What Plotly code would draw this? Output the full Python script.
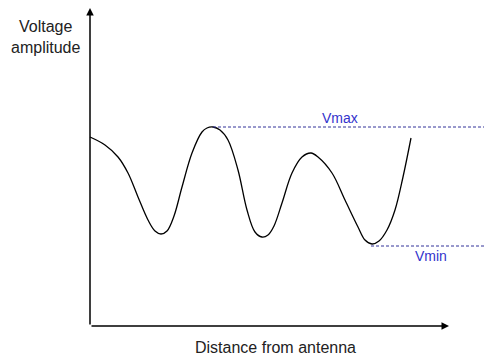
import plotly.graph_objects as go

# Standing-wave voltage amplitude along the line (arbitrary units)
distance = [0, 15, 28, 38, 48, 58, 65, 71, 77, 84, 92, 102, 112, 117, 123, 130, 138, 148, 157, 165,
            172, 178, 184, 192, 202, 212, 221, 228, 242, 255, 268, 275, 282, 289, 297, 305, 313, 321]
amplitude = [189, 181, 169, 153, 129, 106, 95, 92, 95, 110, 139, 173, 194, 198, 199, 196, 186, 156, 116, 94,
             89, 91, 100, 123, 153, 169, 173, 169, 153, 126, 99, 86, 82, 85, 96, 116, 149, 188]

v_max = 199
v_min = 80
vmax_span = [123, 402]
vmin_span = [281, 398]

x_axis_end = 359
y_axis_end = 318

fig = go.Figure()

fig.add_trace(go.Scatter(
    x=distance, y=amplitude, mode="lines",
    line=dict(color="black", width=1.3, shape="spline", smoothing=1.0),
    hoverinfo="skip", showlegend=False,
))

fig.add_trace(go.Scatter(
    x=vmax_span, y=[v_max, v_max], mode="lines",
    line=dict(color="#333399", width=1, dash="3px,2px"),
    hoverinfo="skip", showlegend=False,
))
fig.add_trace(go.Scatter(
    x=vmin_span, y=[v_min, v_min], mode="lines",
    line=dict(color="#333399", width=1, dash="3px,2px"),
    hoverinfo="skip", showlegend=False,
))

font = "Liberation Sans, Arial, sans-serif"

# axes with arrows
fig.add_annotation(x=0, y=y_axis_end, ax=0, ay=0, xref="x", yref="y", axref="x", ayref="y",
                   text="", showarrow=True, arrowhead=2, arrowsize=1, arrowwidth=1.5,
                   arrowcolor="black", standoff=0)
fig.add_annotation(x=x_axis_end, y=0, ax=0, ay=0, xref="x", yref="y", axref="x", ayref="y",
                   text="", showarrow=True, arrowhead=2, arrowsize=1, arrowwidth=1.5,
                   arrowcolor="black", standoff=0)

fig.add_annotation(x=-45, y=289, text="Voltage<br>amplitude", showarrow=False,
                   font=dict(family=font, size=16, color="#222222"), xref="x", yref="y")
fig.add_annotation(x=185, y=-21, text="Distance from antenna", showarrow=False,
                   font=dict(family=font, size=16, color="#222222"), xref="x", yref="y")
fig.add_annotation(x=250, y=208, text="Vmax", showarrow=False,
                   font=dict(family=font, size=14, color="#3333cc"), xref="x", yref="y")
fig.add_annotation(x=341, y=70, text="Vmin", showarrow=False,
                   font=dict(family=font, size=14, color="#3333cc"), xref="x", yref="y")

# the page body adds an 8px offset; ranges compensate so marks land where the reference has them
fig.update_layout(
    width=492, height=358,
    margin=dict(l=0, r=0, t=0, b=0),
    paper_bgcolor="white", plot_bgcolor="white",
    xaxis=dict(range=[-82, 410], visible=False, fixedrange=True),
    yaxis=dict(range=[-40, 318], visible=False, fixedrange=True),
    showlegend=False,
)

fig.write_html("out.html")
